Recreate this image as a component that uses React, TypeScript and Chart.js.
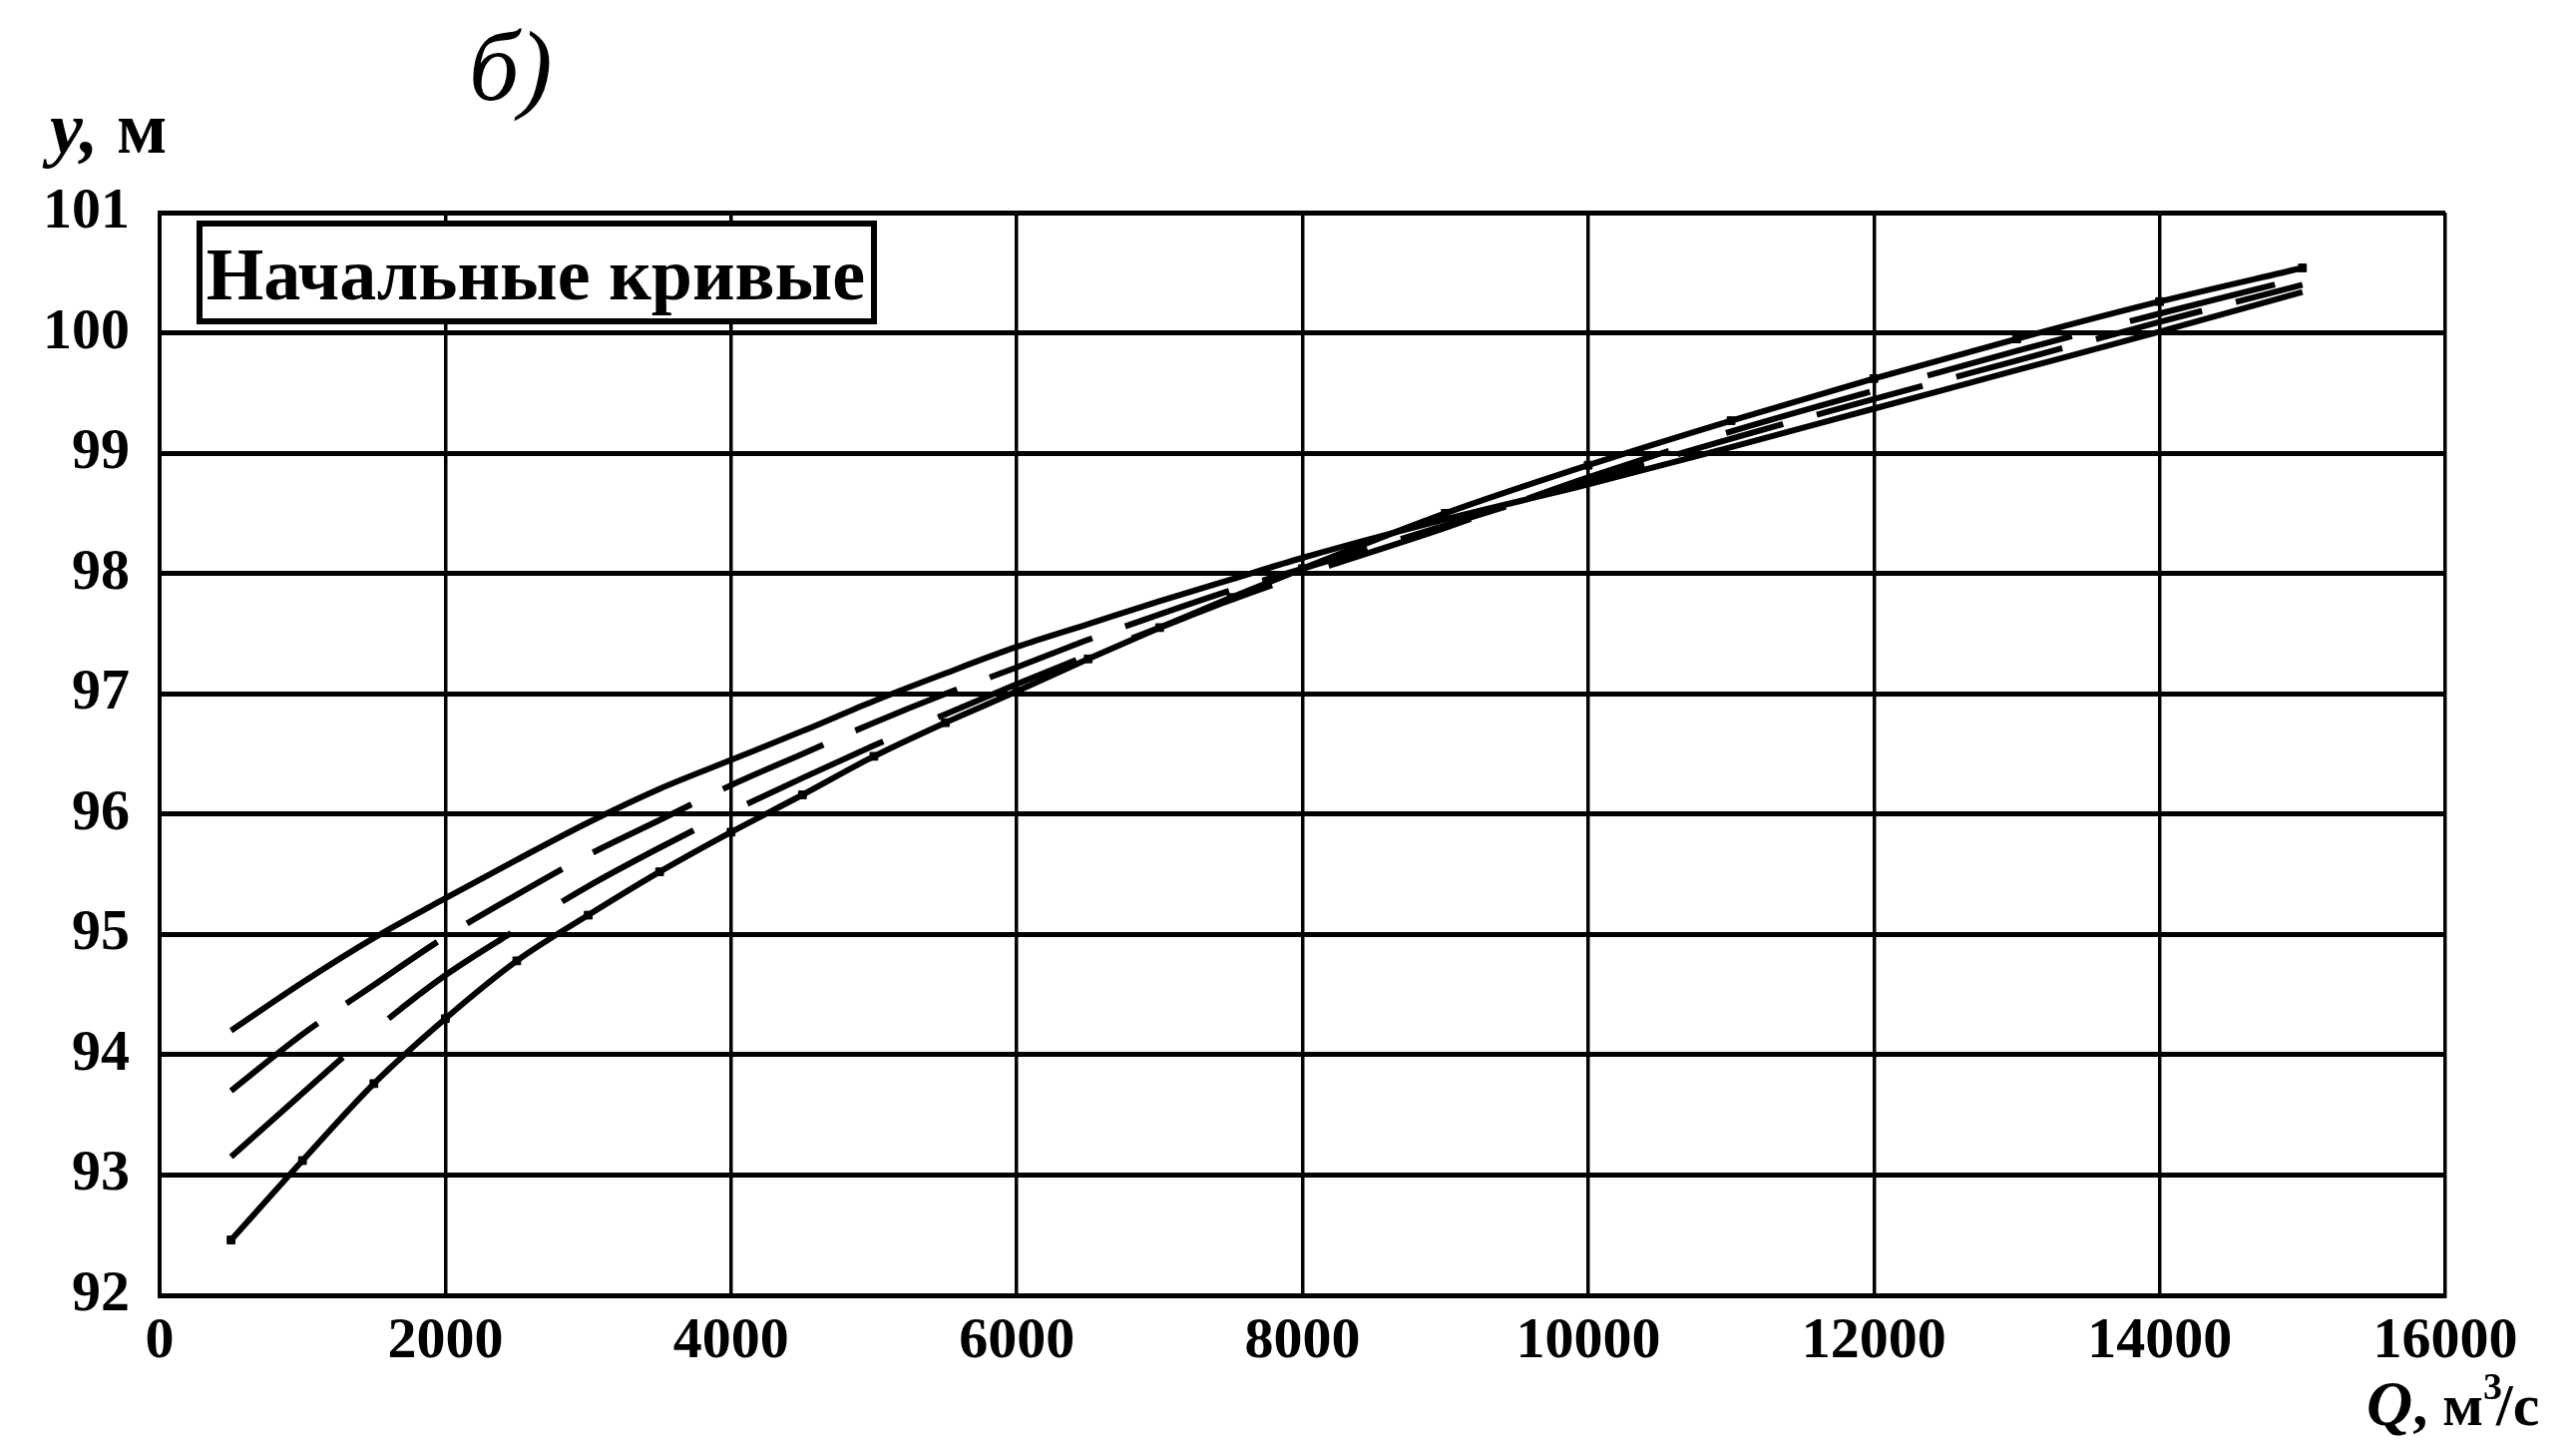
import React, { useEffect, useRef } from "react";
import { Chart, registerables } from "chart.js";

Chart.register(...registerables);

// Discharge Q, m3/s
const Q = [500, 1000, 1500, 2000, 2500, 3000, 3500, 4000, 4500, 5000, 5500, 6000, 6500, 7000, 7500, 8000, 9000, 10000, 11000, 12000, 13000, 14000, 15000];
// Stage y, m — four initial curves
const curve1 = [94.2, 94.6, 94.97, 95.3, 95.62, 95.93, 96.21, 96.45, 96.69, 96.94, 97.17, 97.39, 97.58, 97.77, 97.95, 98.13, 98.45, 98.74, 99.05, 99.37, 99.69, 100.01, 100.34];
const curve2 = [93.7, 94.17, 94.58, 94.98, 95.33, 95.66, 95.95, 96.24, 96.5, 96.76, 97.0, 97.22, 97.45, 97.66, 97.86, 98.04, 98.4, 98.77, 99.12, 99.45, 99.77, 100.09, 100.4];
const curve3 = [93.15, 93.68, 94.2, 94.66, 95.04, 95.4, 95.72, 96.02, 96.3, 96.57, 96.83, 97.08, 97.32, 97.55, 97.78, 97.99, 98.38, 98.8, 99.18, 99.52, 99.85, 100.16, 100.46];
const curve4 = [92.46, 93.12, 93.76, 94.3, 94.78, 95.16, 95.52, 95.85, 96.16, 96.48, 96.76, 97.02, 97.29, 97.55, 97.8, 98.04, 98.5, 98.9, 99.27, 99.62, 99.95, 100.26, 100.54];

const X_MIN = 0;
const X_MAX = 16000;
const X_STEP = 2000;
const Y_MIN = 92;
const Y_MAX = 101;
const Y_STEP = 1;

const TITLE = "б)";
const Y_LABEL_VAR = "y,";
const Y_LABEL_UNIT = "м";
const LEGEND_TEXT = "Начальные кривые";

const SERIF = '"Liberation Serif", "Times New Roman", serif';

const toPoints = (ys: number[]) => Q.map((q, i) => ({ x: q, y: ys[i] }));

const annotations = {
  id: "annotations",
  afterDraw(chart: any) {
    const ctx: CanvasRenderingContext2D = chart.ctx;
    ctx.save();
    ctx.fillStyle = "#000";
    ctx.strokeStyle = "#000";
    ctx.textBaseline = "alphabetic";
    ctx.textAlign = "left";

    // panel title
    ctx.font = `italic 100px ${SERIF}`;
    ctx.fillText(TITLE, 470, 100);

    // y axis label
    ctx.font = `italic bold 74px ${SERIF}`;
    ctx.fillText(Y_LABEL_VAR, 50, 153);
    const wy = ctx.measureText(Y_LABEL_VAR + " ").width;
    ctx.font = `bold 74px ${SERIF}`;
    ctx.fillText(Y_LABEL_UNIT, 50 + wy, 153);

    // legend box
    ctx.fillStyle = "#fff";
    ctx.fillRect(200, 224, 676, 98);
    ctx.lineWidth = 6;
    ctx.strokeRect(200, 224, 676, 98);
    ctx.fillStyle = "#000";
    ctx.font = `bold 74px ${SERIF}`;
    ctx.textAlign = "center";
    ctx.fillText(LEGEND_TEXT, 537, 300);

    // x axis label: Q, м³/с
    ctx.textAlign = "left";
    let x = 2372;
    const base = 1428;
    ctx.font = `italic bold 64px ${SERIF}`;
    ctx.fillText("Q", x, base);
    x += ctx.measureText("Q").width;
    ctx.font = `bold 60px ${SERIF}`;
    ctx.fillText(", м", x, base);
    x += ctx.measureText(", м").width;
    ctx.font = `bold 38px ${SERIF}`;
    ctx.fillText("3", x, base - 26);
    x += ctx.measureText("3").width - 6;
    ctx.font = `bold 60px ${SERIF}`;
    ctx.fillText("/с", x, base);

    ctx.restore();
  },
};

export default function App() {
  const ref = useRef<HTMLCanvasElement | null>(null);

  useEffect(() => {
    document.body.style.margin = "0";
    document.body.style.background = "#fff";
    if (!ref.current) return;
    const chart = new Chart(ref.current, {
      type: "line",
      data: {
        datasets: [
          {
            label: "1",
            data: toPoints(curve1),
            borderColor: "#000",
            borderWidth: 6,
            pointRadius: 0,
            cubicInterpolationMode: "monotone",
          },
          {
            label: "2",
            data: toPoints(curve2),
            borderColor: "#000",
            borderWidth: 6,
            borderDash: [110, 35],
            pointRadius: 0,
            cubicInterpolationMode: "monotone",
          },
          {
            label: "3",
            data: toPoints(curve3),
            borderColor: "#000",
            borderWidth: 6,
            borderDash: [150, 60],
            pointRadius: 0,
            cubicInterpolationMode: "monotone",
          },
          {
            label: "4",
            data: toPoints(curve4),
            borderColor: "#000",
            borderWidth: 6,
            pointRadius: 5.5,
            pointStyle: "rect",
            pointBackgroundColor: "#000",
            pointBorderColor: "#000",
            pointBorderWidth: 1,
            cubicInterpolationMode: "monotone",
          },
        ],
      },
      options: {
        responsive: false,
        animation: false,
        events: [],
        layout: { padding: { left: 0, right: 131, top: 213, bottom: 78 } },
        plugins: {
          legend: { display: false },
          title: { display: false },
          tooltip: { enabled: false },
        },
        scales: {
          x: {
            type: "linear",
            min: X_MIN,
            max: X_MAX,
            afterFit: (s: any) => {
              s.height = 80;
            },
            ticks: {
              stepSize: X_STEP,
              autoSkip: false,
              maxRotation: 0,
              padding: 12,
              color: "#000",
              font: { family: SERIF, size: 58, weight: "bold" },
              callback: (v: any) => String(v),
            },
            grid: { color: "#000", lineWidth: 3.5, drawTicks: false },
            border: { color: "#000", width: 5 },
          },
          y: {
            type: "linear",
            min: Y_MIN,
            max: Y_MAX,
            afterFit: (s: any) => {
              s.width = 160;
            },
            ticks: {
              stepSize: Y_STEP,
              autoSkip: false,
              padding: 30,
              color: "#000",
              font: { family: SERIF, size: 58, weight: "bold" },
              callback: (v: any) => String(v),
            },
            grid: { color: "#000", lineWidth: 5, drawTicks: false },
            border: { color: "#000", width: 4 },
          },
        },
      },
      plugins: [annotations],
    } as any);
    return () => chart.destroy();
  }, []);

  return (
    <canvas
      ref={ref}
      width={2582}
      height={1456}
      style={{ display: "block", width: "2582px", height: "1456px" }}
    />
  );
}
